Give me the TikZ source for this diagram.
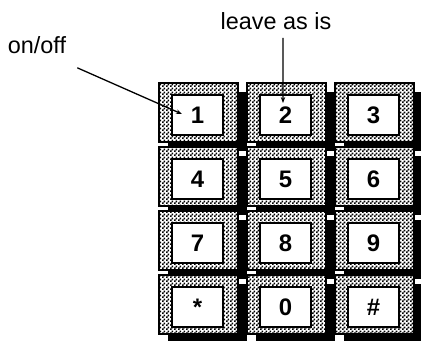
\documentclass[tikz,border=0pt]{standalone}
\usepackage{fontspec}
\setmainfont{Liberation Sans}
\usetikzlibrary{patterns.meta,arrows.meta}

\tikzdeclarepattern{
  name=dither,
  type=uncolored,
  bounding box={(0,0) and (3.6bp,3.6bp)},
  tile size={(3.6bp,3.6bp)},
  code={
    \pgfpathrectangle{\pgfpointorigin}{\pgfpoint{1.8bp}{1.8bp}}
    \pgfpathrectangle{\pgfpoint{1.8bp}{1.8bp}}{\pgfpoint{1.8bp}{1.8bp}}
    \pgfusepath{fill}
  }
}

\tikzset{
  keyframe/.style={preaction={fill=white}, pattern=dither, draw, line width=2.5bp},
  keyface/.style={draw, line width=1.5bp, fill=white, minimum width=51bp,
    minimum height=40bp, inner sep=0pt, font=\fontsize{24}{24}\selectfont\bfseries},
  callout/.style={font=\fontsize{23.5}{24}\selectfont, inner sep=0pt},
  pointer/.style={line width=1.3bp, -{Stealth[length=6bp,width=4.5bp]}}
}

\begin{document}
\begin{tikzpicture}[x=1bp, y=-1bp]
  \useasboundingbox (0,0) rectangle (421,341);
  \clip (0,0) rectangle (421,341);
  \fill[white] (0,0) rectangle (421,341);

  % keypad
  \foreach \lab/\nm [count=\i from 0] in {1/k1,2/k2,3/k3,4/k4,5/k5,6/k6,7/k7,8/k8,9/k9,*/kstar,0/k0,\#/khash}{
    \pgfmathtruncatemacro\c{mod(\i,3)}
    \pgfmathtruncatemacro\r{div(\i,3)}
    \begin{scope}[shift={(88*\c,64*\r)}]
      \fill (168,92) rectangle (247,151);
      \draw[keyframe] (159,83) rectangle (238,142);
      \node[keyface] (\nm) at (197.5,115) {\lab};
    \end{scope}
  }

  % labels
  \node[callout] (onoff) at (37,45) {on/off};
  \node[callout] (leave) at (276,21) {leave as is};

  \draw[pointer] ([xshift=11bp,yshift=-14bp]onoff.south east) -- ([xshift=-15.5bp,yshift=1bp]k1.center);
  \draw[pointer] ([xshift=7bp,yshift=-8bp]leave.south) -- ([xshift=-2.5bp,yshift=12bp]k2.center);
\end{tikzpicture}
\end{document}
